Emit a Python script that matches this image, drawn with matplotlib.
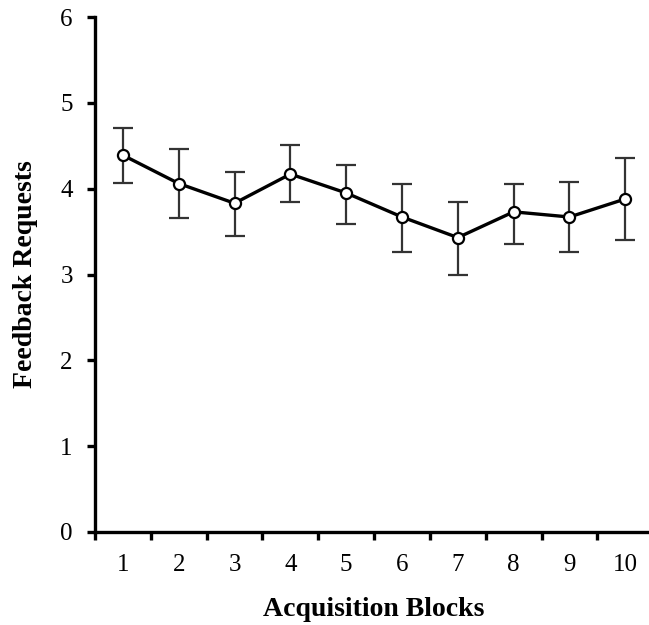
import matplotlib.pyplot as plt
from matplotlib.ticker import FixedLocator, NullFormatter

blocks = [1, 2, 3, 4, 5, 6, 7, 8, 9, 10]
requests = [4.39, 4.06, 3.83, 4.17, 3.95, 3.67, 3.43, 3.73, 3.67, 3.88]
err_low = [0.32, 0.40, 0.38, 0.32, 0.36, 0.41, 0.43, 0.38, 0.41, 0.48]
err_high = [0.32, 0.40, 0.37, 0.34, 0.32, 0.39, 0.41, 0.33, 0.41, 0.48]
y_ticks = [0, 1, 2, 3, 4, 5, 6]

plt.rcParams['font.family'] = ['Liberation Serif', 'DejaVu Serif']

fig = plt.figure(figsize=(6.49, 6.25), dpi=100)
ax = fig.add_axes([0.1464, 0.1488, 0.86, 0.824])

ax.errorbar(blocks, requests, yerr=[err_low, err_high], fmt='none',
            ecolor='#333333', elinewidth=1.6, capsize=7, capthick=1.6, zorder=2)
ax.plot(blocks, requests, color='black', linewidth=2.4, marker='o',
        markersize=8, markerfacecolor='white', markeredgecolor='black',
        markeredgewidth=1.6, zorder=3)

ax.set_xlim(0.5, 10.5)
ax.set_ylim(0, 6)

for s in ['top', 'right']:
    ax.spines[s].set_visible(False)
for s in ['left', 'bottom']:
    ax.spines[s].set_linewidth(2.4)

ax.set_yticks(y_ticks)
ax.tick_params(axis='y', direction='out', length=6, width=2.4, labelsize=18, pad=10)

ax.xaxis.set_major_locator(FixedLocator([b - 0.5 for b in blocks]))
ax.xaxis.set_major_formatter(NullFormatter())
ax.xaxis.set_minor_locator(FixedLocator(blocks))
ax.set_xticklabels([str(b) for b in blocks], minor=True)
ax.tick_params(axis='x', which='major', direction='out', length=6, width=2.4)
ax.tick_params(axis='x', which='minor', length=0, labelsize=18, pad=16)

ax.set_xlabel('Acquisition Blocks', fontsize=20, fontweight='bold', labelpad=15)
ax.set_ylabel('Feedback Requests', fontsize=20, fontweight='bold', labelpad=16)

fig.savefig('out.png', dpi=100)
